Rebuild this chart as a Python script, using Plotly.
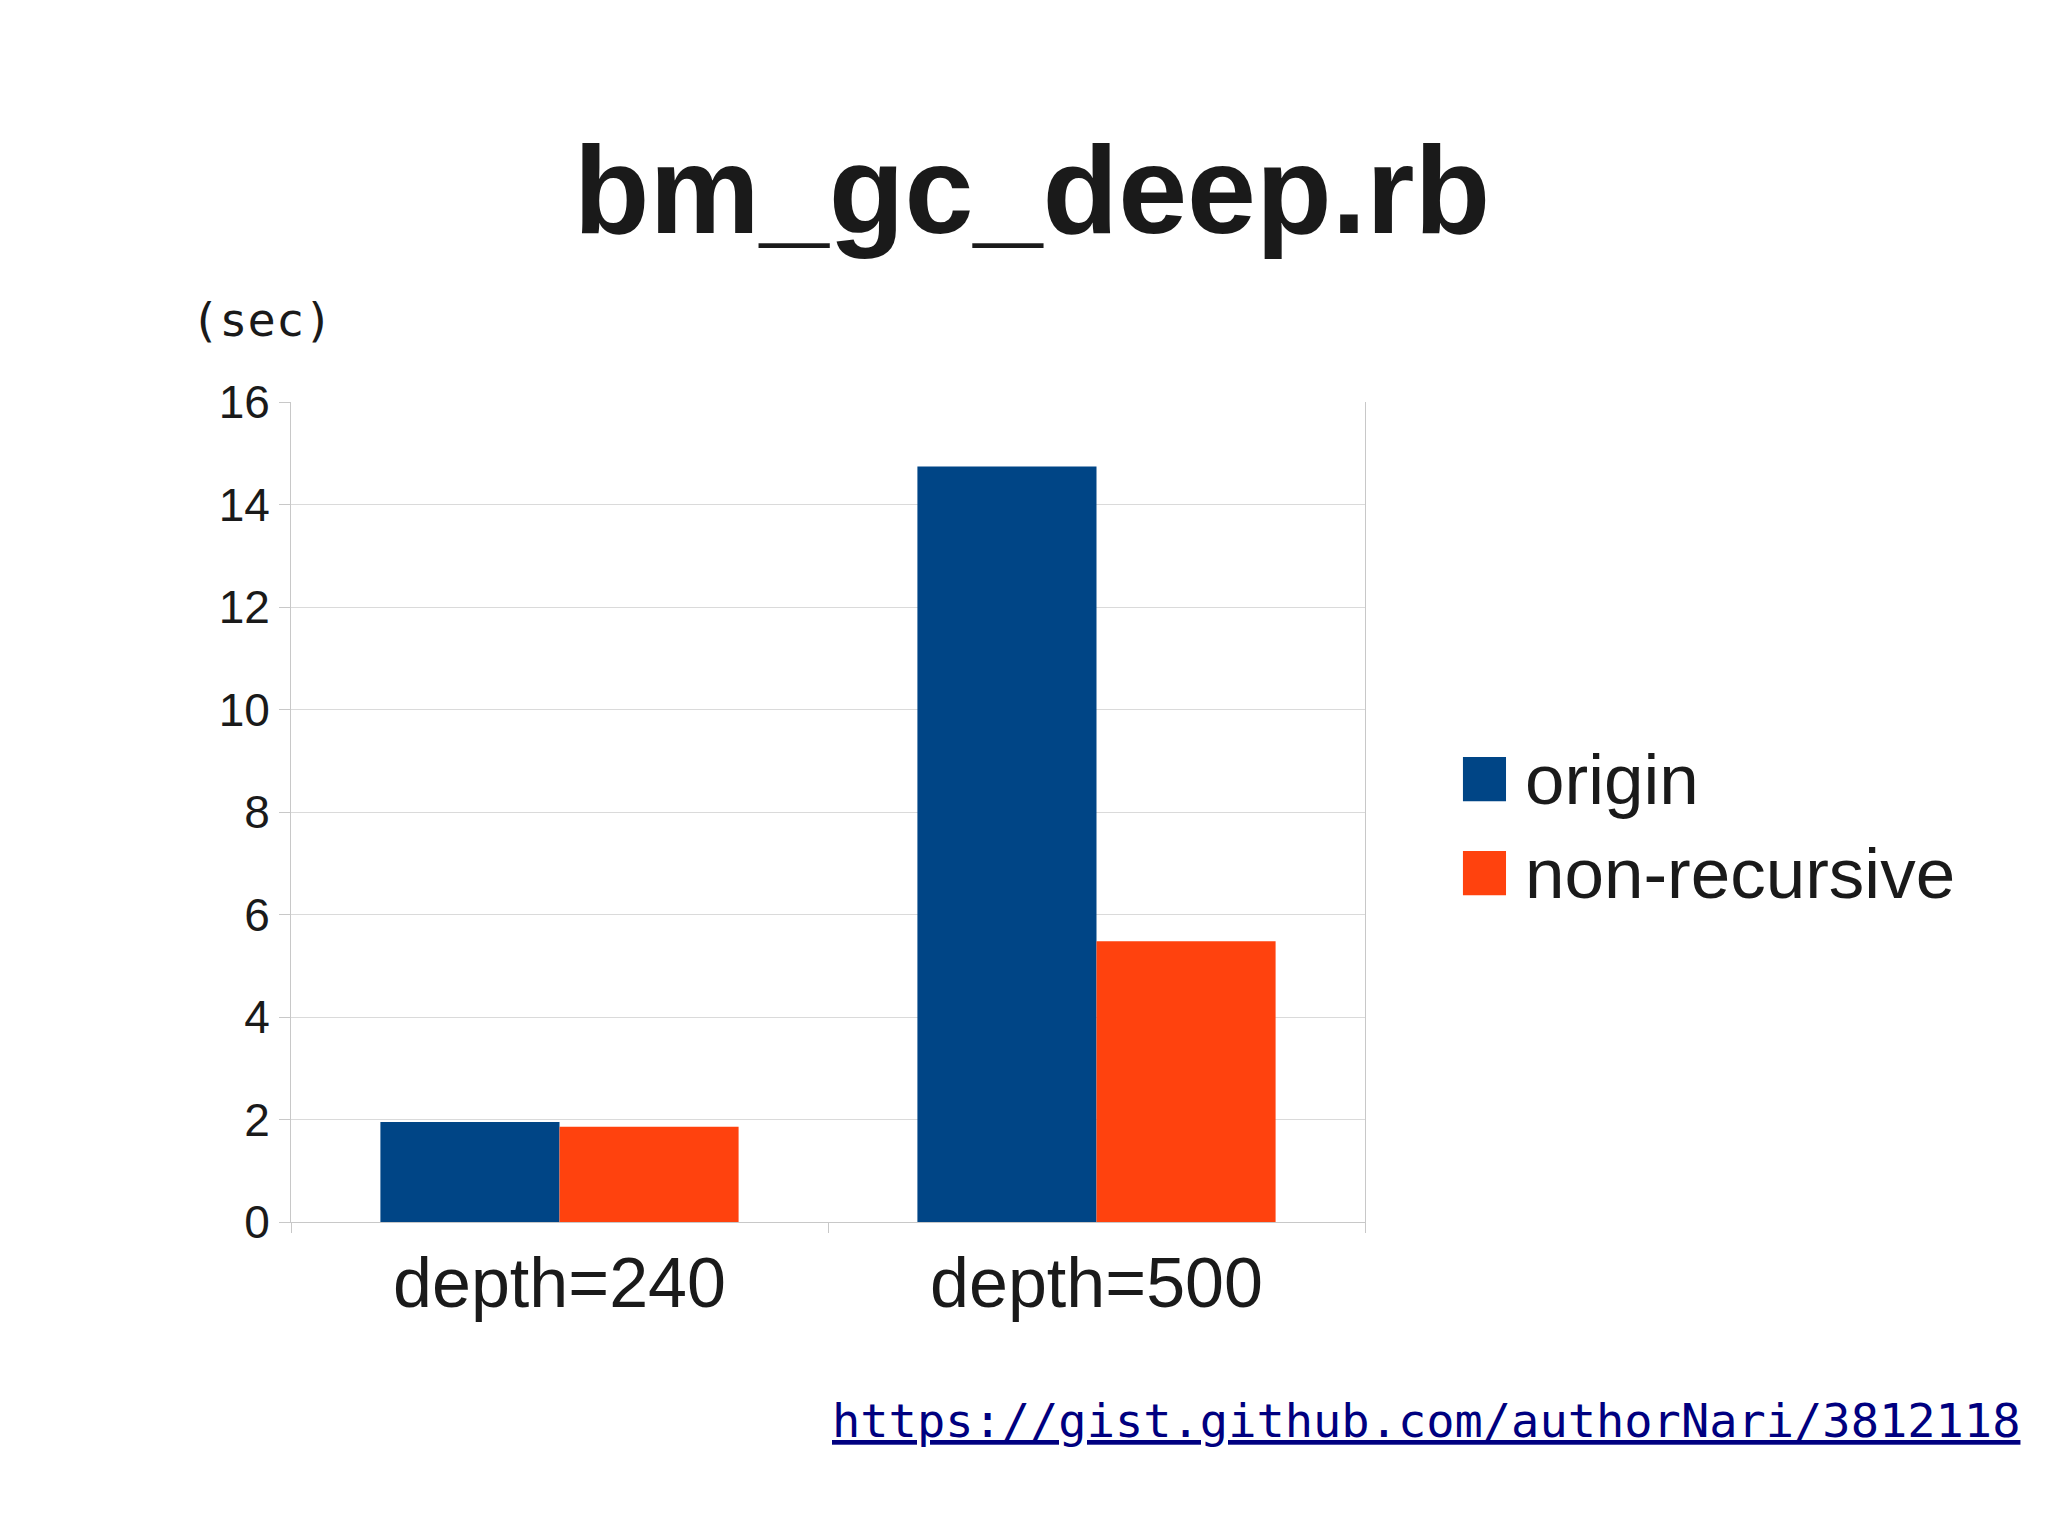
import plotly.graph_objects as go

# data
categories = ['depth=240', 'depth=500']
origin = [1.95, 14.74]
non_recursive = [1.86, 5.48]
series_names = ['origin', 'non-recursive']
series_colors = ['#004586', '#ff420e']
y_ticks = [0, 2, 4, 6, 8, 10, 12, 14, 16]

title_text = 'bm_gc_deep.rb'
unit_text = '(sec)'
url_text = 'https://gist.github.com/authorNari/3812118'

TEXT = '#1a1a1a'
GRID = '#dadada'
AXIS = '#c8c8c8'

fig = go.Figure()
for name, vals, col in zip(series_names, [origin, non_recursive], series_colors):
    fig.add_trace(go.Bar(
        x=categories, y=vals, name=name,
        marker=dict(color=col, line=dict(width=0)),
        showlegend=False,
    ))

# legend drawn by hand so the keys can be big squares
shapes = []
annotations = []
for idx, (name, col) in enumerate(zip(series_names, series_colors)):
    yc = 0.540 - idx * 0.1146
    shapes.append(dict(type='rect', xref='paper', yref='paper',
                       x0=1.0912, x1=1.1313, y0=yc - 0.027, y1=yc + 0.027,
                       fillcolor=col, line=dict(width=0)))
    annotations.append(dict(text=name, xref='paper', yref='paper',
                            x=1.1475, y=yc, xanchor='left', yanchor='middle',
                            showarrow=False,
                            font=dict(family='Liberation Sans', size=71, color=TEXT)))

annotations.append(dict(text=unit_text, xref='paper', yref='paper',
                        x=-0.095, y=1.10, xanchor='left', yanchor='middle',
                        showarrow=False,
                        font=dict(family='DejaVu Sans Mono', size=47, color=TEXT)))

annotations.append(dict(
    text='<a href="%s" style="color:#000080;text-decoration:underline">%s</a>' % (url_text, url_text),
    xref='paper', yref='paper', x=1.6117, y=-0.2415,
    xanchor='right', yanchor='middle', showarrow=False,
    font=dict(family='DejaVu Sans Mono', size=47, color='#000080')))

# page body has an 8px margin, so margins are shifted to land the plot area in place
fig.update_layout(
    width=2048, height=1537,
    paper_bgcolor='white', plot_bgcolor='white',
    margin=dict(l=283, r=691, t=394, b=323, pad=0),
    title=dict(text='<b>%s</b>' % title_text, x=0.5, xref='container',
               y=1 - 182 / 1537, yref='container', yanchor='middle', xanchor='center',
               font=dict(family='Liberation Sans', size=124, color=TEXT)),
    barmode='group', bargap=0.333, bargroupgap=0,
    xaxis=dict(
        type='category', tickson='boundaries',
        ticks='outside', ticklen=10, tickcolor=AXIS, tickwidth=1,
        showline=True, linecolor=AXIS, linewidth=1, mirror=False,
        showgrid=False, zeroline=False,
        tickfont=dict(family='Liberation Sans', size=70, color=TEXT),
    ),
    yaxis=dict(
        range=[0, 16], tickvals=y_ticks,
        ticks='outside', ticklen=11, tickcolor=AXIS, tickwidth=1,
        showline=True, linecolor=AXIS, linewidth=1, mirror=True,
        showgrid=True, gridcolor=GRID, gridwidth=1, zeroline=False,
        tickfont=dict(family='Liberation Sans', size=46, color=TEXT),
    ),
    shapes=shapes,
    annotations=annotations,
)

fig.write_html('out.html')
